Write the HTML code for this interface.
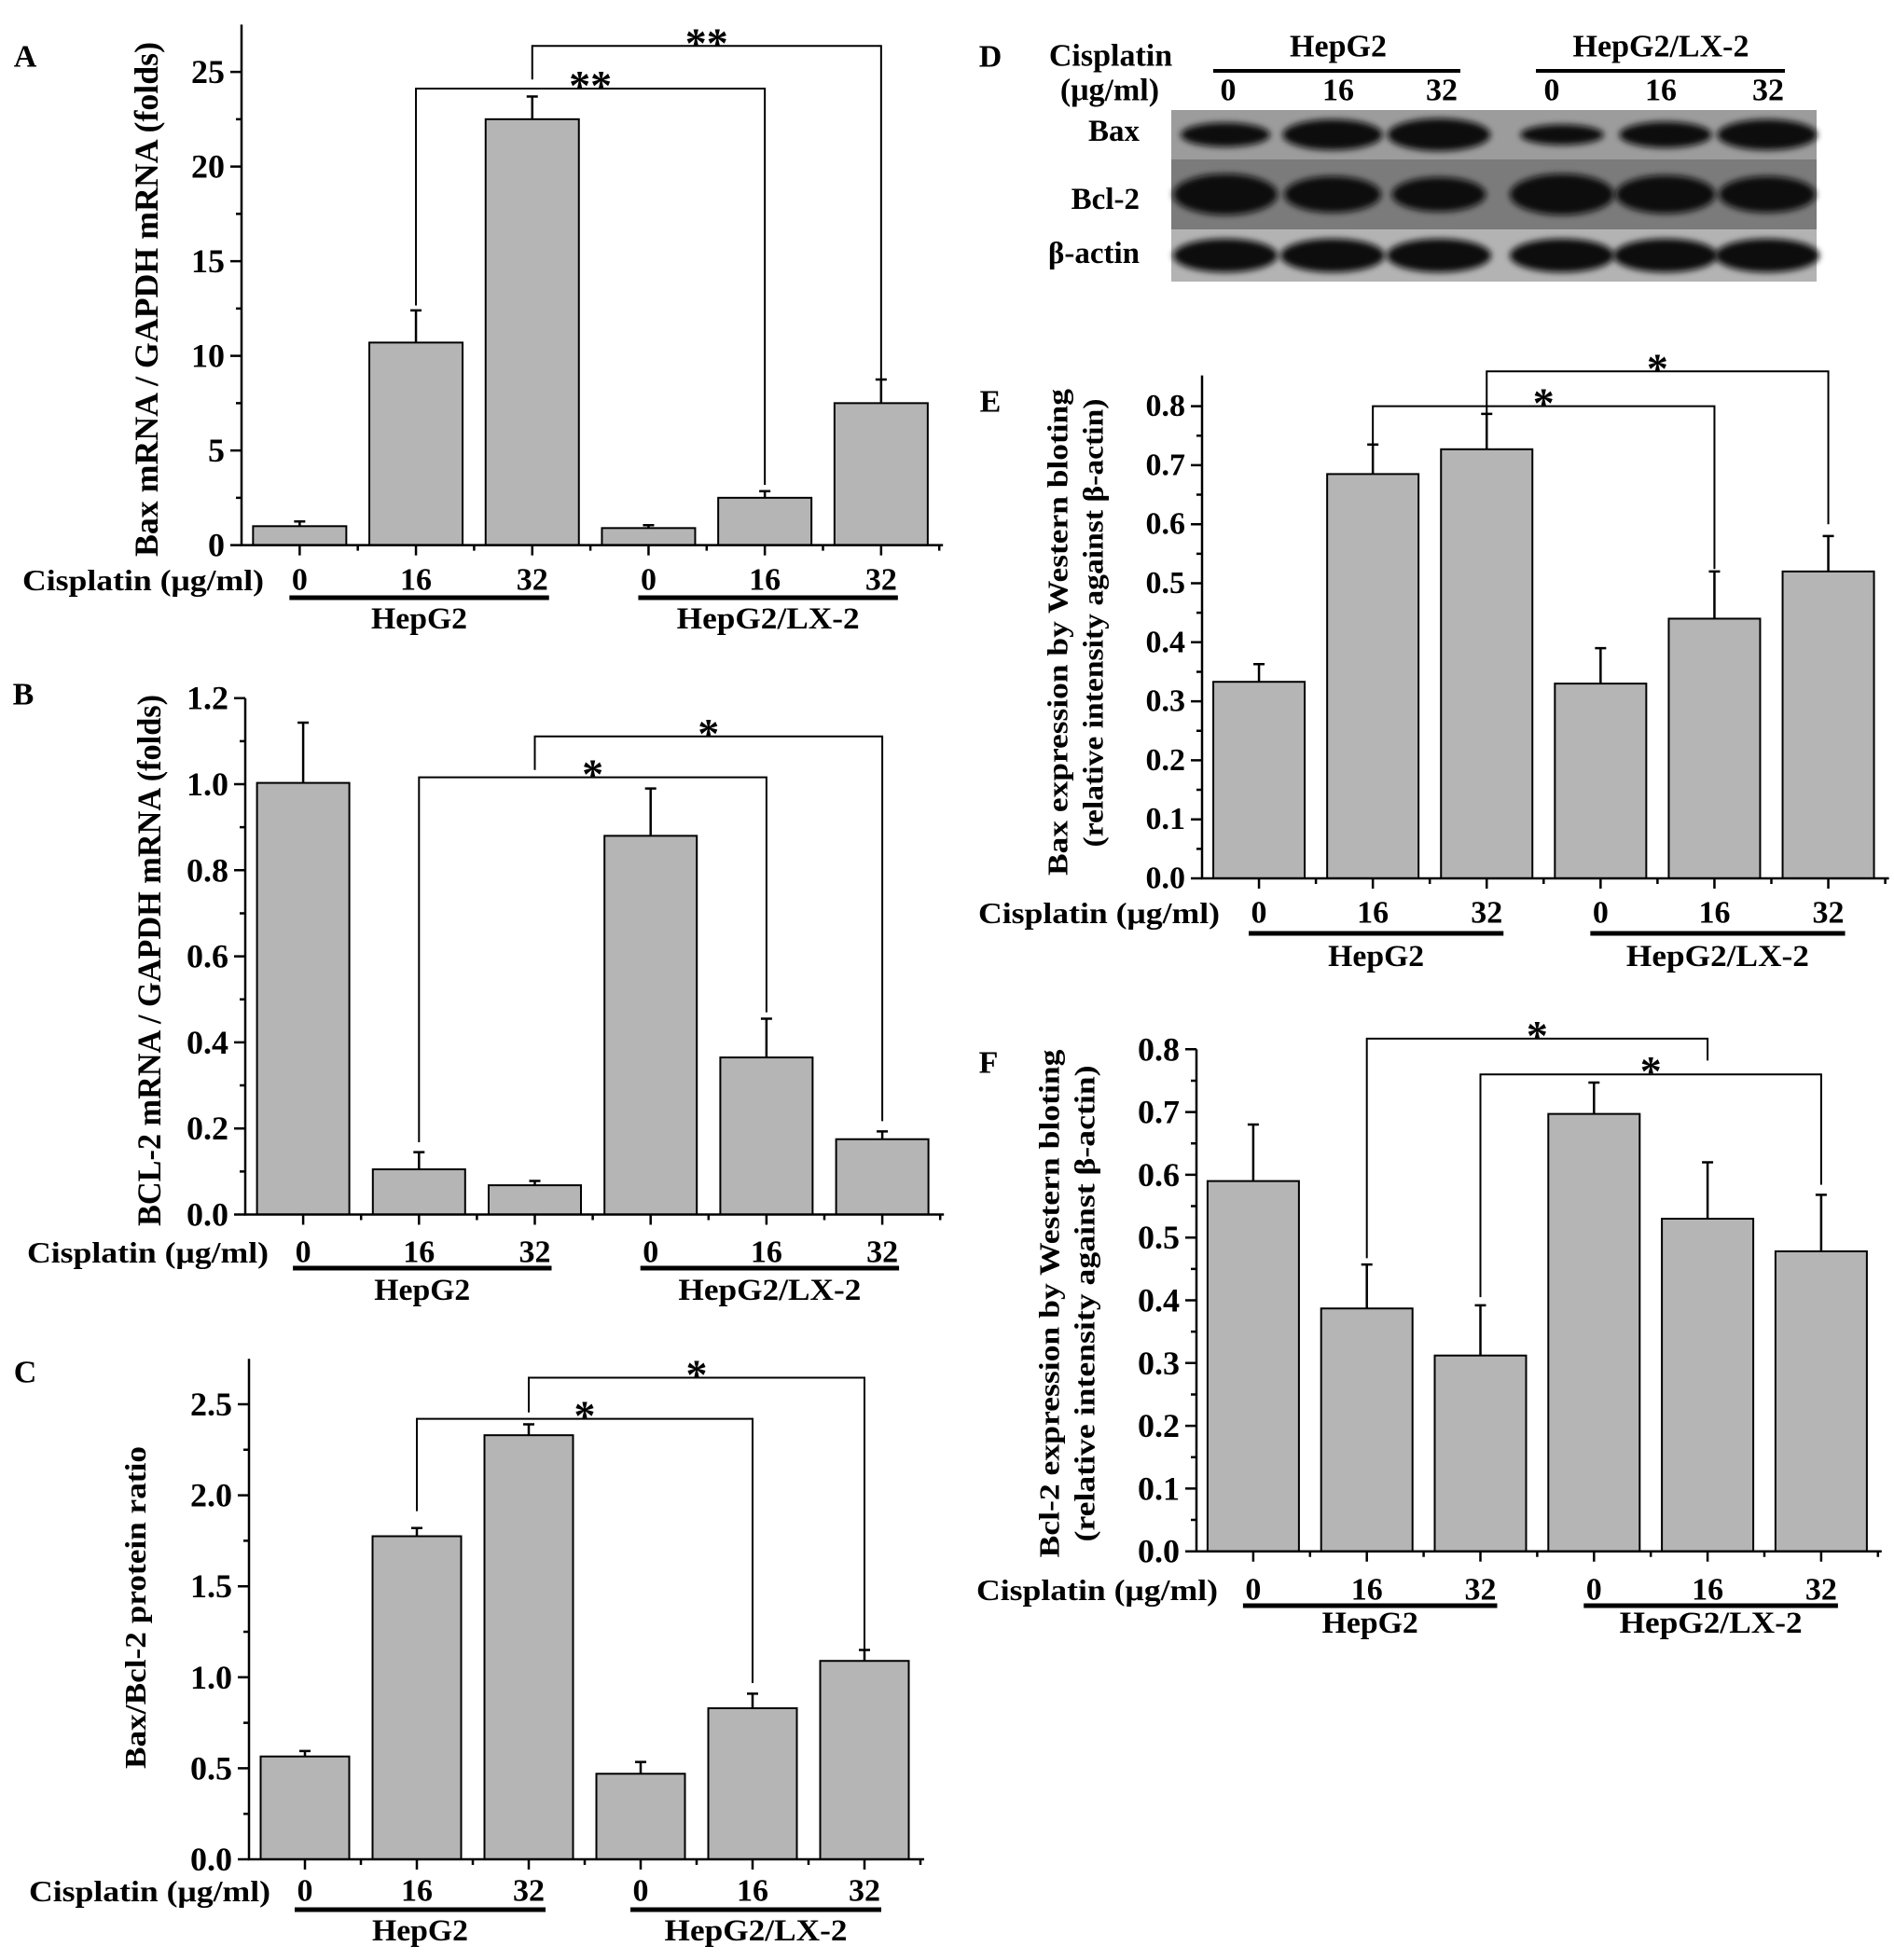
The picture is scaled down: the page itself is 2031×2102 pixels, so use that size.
<!DOCTYPE html>
<html><head><meta charset="utf-8"><style>
html,body{margin:0;padding:0;background:#fff}
svg{display:block}
text{font-family:"Liberation Serif",serif;font-weight:bold;fill:#000}
</style></head><body>
<svg id="fig" width="2031" height="2102" viewBox="0 0 2031 2102" xmlns="http://www.w3.org/2000/svg">
<rect x="0" y="0" width="2031" height="2102" fill="#fff"/>
<defs><filter id="blur" x="-20%" y="-50%" width="140%" height="200%"><feGaussianBlur stdDeviation="3.5"/></filter></defs>
</svg>
<script>
// ---------- Data ----------
const categories = ["0","16","32","0","16","32"];
const groupLabels = ["HepG2","HepG2/LX-2"];
// Panel A
const valsA = [1.0, 10.7, 22.5, 0.9, 2.5, 7.5];
const errA  = [0.25, 1.7, 1.2, 0.15, 0.35, 1.25];
const ticksA = [0,5,10,15,20,25];
const bracketsA = [{from:2,to:5,level:26.37,leftEnd:24.6,rightEnd:8.8,mark:"**"},{from:1,to:4,level:24.12,leftEnd:12.66,rightEnd:3.18,mark:"**"}];
// Panel B
const valsB = [1.003, 0.105, 0.068, 0.88, 0.365, 0.175];
const errB  = [0.14, 0.04, 0.01, 0.11, 0.09, 0.018];
const ticksB = [0,0.2,0.4,0.6,0.8,1.0,1.2];
const bracketsB = [{from:2,to:5,level:1.111,leftEnd:1.033,rightEnd:0.217,mark:"*"},{from:1,to:4,level:1.016,leftEnd:0.168,rightEnd:0.47,mark:"*"}];
// Panel C
const valsC = [0.565, 1.775, 2.33, 0.47, 0.83, 1.09];
const errC  = [0.03, 0.045, 0.06, 0.065, 0.08, 0.06];
const ticksC = [0,0.5,1.0,1.5,2.0,2.5];
const bracketsC = [{from:2,to:5,level:2.646,leftEnd:2.455,rightEnd:1.153,mark:"*"},{from:1,to:4,level:2.42,leftEnd:1.913,rightEnd:0.968,mark:"*"}];
// Panel E
const valsE = [0.333, 0.685, 0.727, 0.33, 0.44, 0.52];
const errE  = [0.03, 0.05, 0.06, 0.06, 0.08, 0.06];
const ticksE = [0,0.1,0.2,0.3,0.4,0.5,0.6,0.7,0.8];
const bracketsE = [{from:2,to:5,level:0.859,leftEnd:0.787,rightEnd:0.60,mark:"*"},{from:1,to:4,level:0.80,leftEnd:0.731,rightEnd:0.524,mark:"*"}];
// Panel F
const valsF = [0.59, 0.387, 0.312, 0.697, 0.53, 0.478];
const errF  = [0.09, 0.07, 0.08, 0.05, 0.09, 0.09];
const ticksF = [0,0.1,0.2,0.3,0.4,0.5,0.6,0.7,0.8];
const bracketsF = [{from:1,to:4,level:0.817,leftEnd:0.467,rightEnd:0.782,mark:"*"},{from:2,to:5,level:0.76,leftEnd:0.405,rightEnd:0.584,mark:"*"}];

const NS="http://www.w3.org/2000/svg";
const svg=document.getElementById('fig');
function mk(tag,attrs,parent){const e=document.createElementNS(NS,tag);for(const k in attrs)e.setAttribute(k,attrs[k]);(parent||svg).appendChild(e);return e;}
function txt(parent,x,y,s,size,anchor,extra){const t=mk('text',Object.assign({x:x,y:y,'font-size':size,'text-anchor':anchor||'middle','dominant-baseline':'central'},extra||{}),parent);t.textContent=s;return t;}

function panel(cfg){
  const g=mk('g',{});
  
  
  const yS=v=>cfg.y0-v*cfg.k;
  const xC=i=>cfg.xL+(i+0.5)*cfg.step;
  const xR=cfg.xL+6*cfg.step+4;
  cfg.vals.forEach((v,i)=>{
    const b=mk('rect',{x:xC(i)-cfg.bw/2,y:yS(v),width:cfg.bw,height:cfg.y0-yS(v),fill:'#b5b5b5',stroke:'#000','stroke-width':2},g);
    
    
    const top=yS(v+cfg.err[i]);
    const e=mk('path',{d:`M${xC(i)} ${yS(v)} V${top} M${xC(i)-6} ${top} H${xC(i)+6}`,stroke:'#000','stroke-width':2.5,fill:'none'},g);
    
    
  });
  const ax=mk('path',{d:`M${cfg.xL} ${yS(cfg.ymax)} V${cfg.y0} H${xR}`,stroke:'#000','stroke-width':2.5,fill:'none'},g);
  
  
  let d='';
  cfg.ticks.forEach(t=>{d+=`M${cfg.xL-12} ${yS(t)} H${cfg.xL} `;});
  for(let i=0;i<cfg.ticks.length-1;i++){const m=(cfg.ticks[i]+cfg.ticks[i+1])/2;d+=`M${cfg.xL-6} ${yS(m)} H${cfg.xL} `;}
  for(let i=0;i<6;i++){d+=`M${xC(i)} ${cfg.y0} v11 `;d+=`M${cfg.xL+(i+1)*cfg.step} ${cfg.y0} v6 `;}
  mk('path',{d:d,stroke:'#000','stroke-width':2.5,fill:'none'},g);
  cfg.ticks.forEach(t=>{
    const l=txt(g,cfg.xL-18,yS(t),cfg.fmt(t),cfg.tfs,'end');
    
    
  });
  cfg.ytitle.forEach(yt=>{
    const t=txt(g,0,0,yt.s,yt.fs,'middle',{transform:`translate(${yt.x},${yt.y}) rotate(-90)`,textLength:yt.len,lengthAdjust:'spacingAndGlyphs'});
    
    
  });
  const cl=txt(g,cfg.cisX,cfg.labY,'Cisplatin (μg/ml)',32,'end',{textLength:259,lengthAdjust:'spacingAndGlyphs'});
  
  
  categories.forEach((c,i)=>{
    const t=txt(g,xC(i),cfg.labY,c,34);
    
    
  });
  groupLabels.forEach((s,j)=>{
    const a=xC(3*j)-11,b=xC(3*j+2)+18;
    mk('rect',{x:a,y:cfg.ulY-2.5,width:b-a,height:5,fill:'#000'},g);
    const t=txt(g,(a+b)/2,cfg.grpY,s,33,'middle',{textLength:j?196:103,lengthAdjust:'spacingAndGlyphs'});
    
    
  });
  cfg.br.forEach(br=>{
    const x1=xC(br.from),x2=xC(br.to),ly=yS(br.level);
    const p=mk('path',{d:`M${x1} ${yS(br.leftEnd)} V${ly} H${x2} V${yS(br.rightEnd)}`,stroke:'#000','stroke-width':2,fill:'none'},g);
    
    
    const s=mk('text',{x:(x1+x2)/2,y:ly+12,'font-size':46,'text-anchor':'middle'},g);
    s.textContent=br.mark;
    
    
  });
  const pl=txt(g,cfg.letter[1],cfg.letter[2],cfg.letter[0],34);
  
  
}
const f0=t=>String(t), f1=t=>t.toFixed(1);
panel({id:'a',name:'panel-a-chart',vals:valsA,err:errA,ticks:ticksA,br:bracketsA,fmt:f0,xL:259,step:124.7,bw:100,y0:584.6,k:20.3,ymax:27.5,tfs:36,
  ytitle:[{s:'Bax mRNA / GAPDH mRNA (folds)',x:157,y:321,len:552,fs:36}],cisX:283,labY:622,ulY:641,grpY:664,letter:['A',27,61]});
panel({id:'b',name:'panel-b-chart',vals:valsB,err:errB,ticks:ticksB,br:bracketsB,fmt:f1,xL:263,step:124.2,bw:99,y0:1302.5,k:461.5,ymax:1.2,tfs:36,
  ytitle:[{s:'BCL-2 mRNA / GAPDH mRNA (folds)',x:160,y:1030,len:570,fs:36}],cisX:288,labY:1343,ulY:1360,grpY:1384,letter:['B',25,745]});
panel({id:'c',name:'panel-c-chart',vals:valsC,err:errC,ticks:ticksC,br:bracketsC,fmt:f1,xL:267,step:120,bw:95,y0:1994,k:195.2,ymax:2.75,tfs:36,
  ytitle:[{s:'Bax/Bcl-2 protein ratio',x:145,y:1724,len:346,fs:32}],cisX:290,labY:2028,ulY:2048,grpY:2071,letter:['C',27,1472]});
panel({id:'e',name:'panel-e-chart',vals:valsE,err:errE,ticks:ticksE,br:bracketsE,fmt:f1,xL:1289,step:122.1,bw:98,y0:942,k:633,ymax:0.852,tfs:34,
  ytitle:[{s:'Bax expression by Western bloting',x:1134,y:678,len:522,fs:31},{s:'(relative intensity against β-actin)',x:1172,y:668,len:481,fs:31}],cisX:1308,labY:979,ulY:1001,grpY:1026,letter:['E',1062,431]});
panel({id:'f',name:'panel-f-chart',vals:valsF,err:errF,ticks:ticksF,br:bracketsF,fmt:f1,xL:1283,step:121.8,bw:98,y0:1663.7,k:673,ymax:0.8,tfs:36,
  ytitle:[{s:'Bcl-2 expression by Western bloting',x:1125,y:1398,len:545,fs:31},{s:'(relative intensity against β-actin)',x:1163,y:1398,len:511,fs:31}],cisX:1306,labY:1705,ulY:1722,grpY:1741,letter:['F',1060,1140]});

// ---------- Panel D: western blot ----------
const blotRows = ["Bax","Bcl-2","β-actin"];
const bandBax  = [0.5, 0.85, 0.95, 0.3, 0.6, 0.85];
const bandBcl  = [1.0, 0.75, 0.65, 1.0, 0.85, 0.75];
const bandActin= [1.0, 1.0, 1.0, 1.0, 1.0, 1.0];
(function(){
  const g=mk('g',{});
  
  
  const lanes=[1314,1429,1543,1675,1786,1895];
  const strips=[{y:118,h:53,bg:'#9c9c9c',b:bandBax,ly:141},{y:171,h:75,bg:'#7b7b7b',b:bandBcl,ly:214},{y:246,h:56,bg:'#b3b3b3',b:bandActin,ly:272}];
  strips.forEach((s,r)=>{
    mk('rect',{x:1256,y:s.y,width:692,height:s.h,fill:s.bg},g);
    s.b.forEach((v,i)=>{
      const e=mk('ellipse',{cx:lanes[i],cy:s.y+s.h/2,rx:40+16*v,ry:(r==1?12:8)+(r==1?10:10)*v,fill:'#0a0a0a',filter:'url(#blur)'},g);
      
      
    });
    const t=txt(g,1222,s.ly,blotRows[r],33,'end');
    
    
  });
  const dl=txt(g,1062,61,'D',34);  
  const c1=txt(g,1191,60,'Cisplatin',34);  
  const c2=txt(g,1190,97,'(μg/ml)',34);  
  mk('rect',{x:1301,y:74,width:265,height:4,fill:'#000'},g);
  mk('rect',{x:1647,y:74,width:267,height:4,fill:'#000'},g);
  const h1=txt(g,1435,50,'HepG2',34);  
  const h2=txt(g,1781,50,'HepG2/LX-2',34);  
  const lx=[1317,1435,1546,1664,1781,1896];
  categories.forEach((c,i)=>{const t=txt(g,lx[i],97,c,34);
    
    });
})();
</script>
</body></html>
